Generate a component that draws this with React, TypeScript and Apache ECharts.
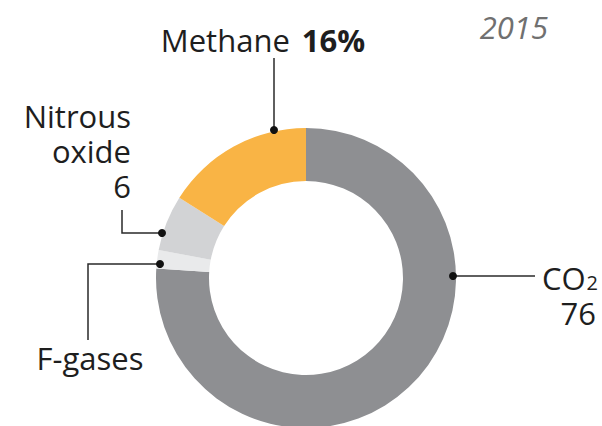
import React, { useEffect, useRef } from "react";
import * as echarts from "echarts";

const gasNames = ["CO2", "F-gases", "Nitrous oxide", "Methane"];
const gasShares = [76, 2, 6, 16];
const gasColors = ["#8e8f92", "#e9eaeb", "#d2d3d5", "#f9b445"];
const yearLabel = "2015";

const FONT = "'Open Sans', 'Noto Sans', sans-serif";
const TXT = "#1e1e1e";
const LINE = "#2a2a2a";
const FS = 31;

export default function App() {
  const ref = useRef<HTMLDivElement>(null);
  useEffect(() => {
    if (!ref.current) return;
    const chart = echarts.init(ref.current, undefined, { renderer: "svg" });
    const dot = (x: number, y: number) => ({
      type: "circle",
      shape: { cx: x, cy: y, r: 4 },
      style: { fill: "#111" },
      z: 10,
    });
    const poly = (pts: number[][]) => ({
      type: "polyline",
      shape: { points: pts },
      style: { stroke: LINE, lineWidth: 1.5, fill: null },
      z: 9,
    });
    const txt = (text: string, x: number, y: number, align: string, extra: any = {}) => ({
      type: "text",
      x,
      y,
      style: {
        text,
        fill: TXT,
        font: `${FS}px ${FONT}`,
        fontSize: FS,
        fontFamily: FONT,
        align,
        textAlign: align,
        textVerticalAlign: "bottom",
        ...extra,
      },
      z: 10,
    });
    const data = gasNames.map((n, i) => ({
      name: n,
      value: gasShares[i],
      itemStyle: { color: gasColors[i] },
    }));
    const nitrousWords = gasNames[2].split(" ");
    chart.setOption({
      animation: false,
      backgroundColor: "#ffffff",
      series: [
        {
          type: "pie",
          center: [306, 278],
          radius: [97, 150],
          startAngle: 90,
          clockwise: true,
          silent: true,
          label: { show: false },
          labelLine: { show: false },
          data,
        },
      ],
      graphic: [
        // Methane
        poly([[274, 130], [274, 58]]),
        dot(274, 130),
        {
          type: "text",
          x: 263,
          y: 55,
          style: {
            text: `{a|${gasNames[3]}}{sp| }{b|${gasShares[3]}%}`,
            textAlign: "center",
            textVerticalAlign: "bottom",
            rich: {
              a: { fontSize: FS, fontFamily: FONT, fill: TXT, color: TXT },
              sp: { fontSize: FS, fontFamily: FONT, width: 12 },
              b: { fontSize: FS, fontFamily: FONT, fontWeight: "bold", fill: TXT, color: TXT },
            },
          },
          z: 10,
        },
        // Nitrous oxide
        poly([[162, 233], [122, 233], [122, 210]]),
        dot(162, 233),
        {
          type: "text",
          x: 131,
          y: 98,
          style: {
            text: `${nitrousWords[0]}\n${nitrousWords[1]}\n${gasShares[2]}`,
            fill: TXT,
            fontSize: FS,
            fontFamily: FONT,
            lineHeight: 35,
            textAlign: "right",
            textVerticalAlign: "top",
          },
          z: 10,
        },
        // F-gases
        poly([[160, 264], [88, 264], [88, 340]]),
        dot(160, 264),
        txt(gasNames[1], 90, 373, "center"),
        // CO2
        poly([[453, 276], [535, 276]]),
        dot(453, 276),
        {
          type: "text",
          x: 598,
          y: 260,
          style: {
            text: `{a|CO}{s|2}\n{n|${gasShares[0]}}`,
            textAlign: "right",
            textVerticalAlign: "top",
            rich: {
              a: { fontSize: FS, fontFamily: FONT, fill: TXT, color: TXT, lineHeight: 35 },
              s: { fontSize: 20, fontFamily: FONT, fill: TXT, color: TXT, padding: [10, 0, 0, 1] },
              n: { fontSize: FS, fontFamily: FONT, fill: TXT, color: TXT, lineHeight: 35, padding: [0, 2, 0, 0] },
            },
          },
          z: 10,
        },
        // year
        txt(yearLabel, 548, 42, "right", { fill: "#707070", fontStyle: "italic", font: `italic 31px ${FONT}`, fontSize: 31 }),
      ],
    });
    return () => chart.dispose();
  }, []);
  return (
    <div
      ref={ref}
      style={{ position: "fixed", left: 0, top: 0, width: 602, height: 426, background: "#fff" }}
    />
  );
}
